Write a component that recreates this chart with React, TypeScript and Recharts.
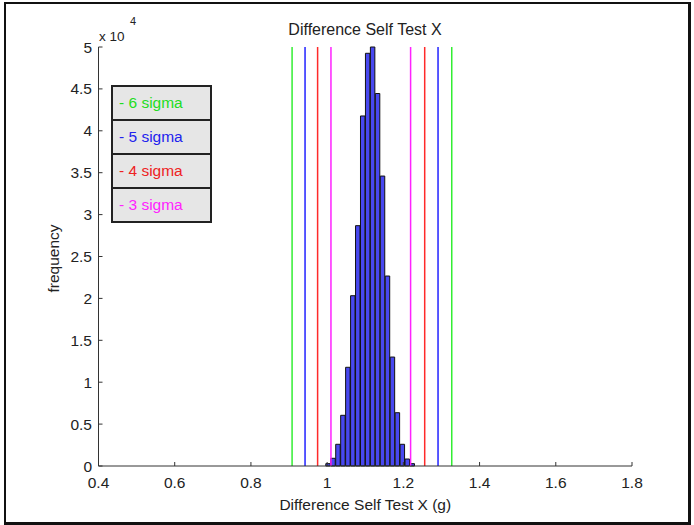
import React from 'react';
import { ComposedChart, Bar, XAxis, YAxis, ReferenceLine } from 'recharts';

// histogram bins (centre of each bin, in g) and counts
const binCenters = [
  1.003, 1.016, 1.029, 1.042, 1.055, 1.068, 1.081, 1.094, 1.107,
  1.120, 1.133, 1.146, 1.159, 1.172, 1.185, 1.198, 1.211, 1.224,
];
const binCounts = [
  280, 920, 2590, 6050, 11780, 20320, 28680, 41770, 49250,
  50000, 44450, 34600, 22670, 13000, 6360, 2590, 835, 280,
];

// sigma limits, lower and upper
const sigmaLabels = ['- 6 sigma', '- 5 sigma', '- 4 sigma', '- 3 sigma'];
const sigmaLineColors = ['#33ee33', '#2222ff', '#ff2a2a', '#ff22ff'];
const sigmaTextColors = ['#22dd22', '#2222ee', '#ee2222', '#ff22ff'];
const sigmaLow = [0.908, 0.942, 0.975, 1.010];
const sigmaHigh = [1.327, 1.291, 1.256, 1.219];

const xTicks = [0.4, 0.6, 0.8, 1, 1.2, 1.4, 1.6, 1.8];
const yTicks = [0, 5000, 10000, 15000, 20000, 25000, 30000, 35000, 40000, 45000, 50000];

const FONT = '"Liberation Sans", Arial, sans-serif';

const histData = binCenters.map((x, i) => ({ x, count: binCounts[i] }));

const App: React.FC = () => {
  return (
    <div style={{ position: 'absolute', left: 0, top: 0, width: 694, height: 525, background: '#fff', fontFamily: FONT }}>
      <ComposedChart
        width={694}
        height={525}
        data={histData}
        margin={{ top: 47, right: 62, bottom: 0, left: 0 }}
      >
        <XAxis
          type="number"
          dataKey="x"
          domain={[0.4, 1.8]}
          ticks={xTicks}
          interval={0}
          height={59}
          tickSize={-4}
          tickMargin={15}
          axisLine={{ stroke: '#333' }}
          tickLine={{ stroke: '#333' }}
          tick={{ fill: '#222', fontSize: 15.5, fontFamily: FONT }}
          label={{ value: 'Difference Self Test X (g)', position: 'insideBottom', offset: 15, fill: '#222', fontSize: 15.5, fontFamily: FONT }}
        />
        <YAxis
          type="number"
          domain={[0, 50000]}
          ticks={yTicks}
          interval={0}
          width={98.5}
          tickSize={-4}
          tickMargin={10.5}
          tickFormatter={(v: number) => String(v / 10000)}
          axisLine={{ stroke: '#333' }}
          tickLine={{ stroke: '#333' }}
          tick={{ fill: '#222', fontSize: 15.5, fontFamily: FONT }}
          label={(props: any) => {
            const vb = props.viewBox || {};
            const cx = 53;
            const cy = (vb.y ?? 47) + (vb.height ?? 419) / 2 + 2;
            return (
              <text
                x={cx}
                y={cy}
                transform={`rotate(-90, ${cx}, ${cy})`}
                textAnchor="middle"
                dominantBaseline="central"
                fill="#222"
                fontSize={15.5}
                fontFamily={FONT}
              >
                frequency
              </text>
            );
          }}
        />
        <Bar dataKey="count" barSize={5} fill="#4848f0" stroke="#111" strokeWidth={1} isAnimationActive={false} />
        {sigmaLow.map((v, i) => (
          <ReferenceLine key={'lo' + i} x={v} stroke={sigmaLineColors[i]} strokeWidth={1.5} />
        ))}
        {sigmaHigh.map((v, i) => (
          <ReferenceLine key={'hi' + i} x={v} stroke={sigmaLineColors[i]} strokeWidth={1.5} />
        ))}
      </ComposedChart>

      {/* title, exponent and the sigma legend */}
      <svg width={694} height={525} style={{ position: 'absolute', left: 0, top: 0, pointerEvents: 'none' }}>
        <text x={365} y={35} textAnchor="middle" fill="#222" fontSize={16} fontFamily={FONT}>
          Difference Self Test X
        </text>
        <text x={99} y={41} fill="#222" fontSize={13.5} fontFamily={FONT}>x 10</text>
        <text x={130} y={25} fill="#222" fontSize={11} fontFamily={FONT}>4</text>
        {sigmaLabels.map((s, i) => (
          <g key={s}>
            <rect x={112} y={86 + i * 34} width={99} height={34} fill="#e6e6e6" stroke="#222" strokeWidth={2} />
            <text x={119} y={108 + i * 34} fill={sigmaTextColors[i]} fontSize={15.5} fontFamily={FONT}>
              {s}
            </text>
          </g>
        ))}
      </svg>

      <div
        style={{
          position: 'absolute',
          left: 4,
          top: 2,
          width: 687,
          height: 523,
          boxSizing: 'border-box',
          borderTop: '2px solid #111',
          borderLeft: '2px solid #111',
          borderRight: '3px solid #111',
          borderBottom: '3px solid #111',
          pointerEvents: 'none',
        }}
      />
    </div>
  );
};

export default App;
